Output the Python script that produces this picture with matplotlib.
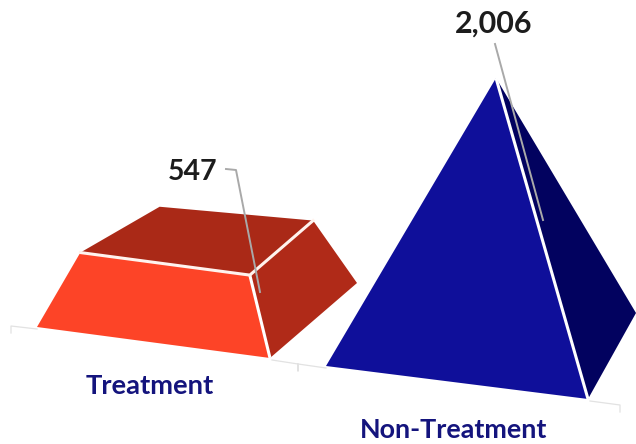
import matplotlib
matplotlib.use("Agg")
import matplotlib.pyplot as plt
from matplotlib.patches import Polygon
import numpy as np

# Data
categories = ["Treatment", "Non-Treatment"]
values = [547, 2006]
value_labels = ["547", "2,006"]

# Layout (screen pixels, y downward): base corners and apex of each pyramid
front_left = [(37, 327), (326, 366)]
front_right = [(270, 358), (588, 399)]
back_right = [(357, 283), (636, 313)]
back_left = [(146, 264), (500, 300)]
apex = [(196, 54), (496, 78)]
front_colors = ["#fd4427", "#0f0f9a"]
side_colors = ["#b02a18", "#02025f"]
top_colors = ["#aa2917", "#02025f"]
label_pos = [(150, 386), (454, 430)]
value_pos = [(193, 172), (494, 24)]
value_sizes = [20.5, 22]
label_sizes = [19.7, 19.4]
leaders = [[(226, 169), (236, 170), (260, 292)], [(495, 44), (543, 220)]]
axis_segments = [[(11, 333), (11, 326), (37, 329)],
                 [(272, 360), (298, 364), (298, 371), (298, 364), (326, 368)],
                 [(590, 401), (620, 405), (620, 412)]]

fig = plt.figure(figsize=(6.36, 4.44), dpi=100, facecolor="white")
ax = fig.add_axes([0, 0, 1, 1])
ax.set_xlim(0, 636)
ax.set_ylim(444, 0)
ax.axis("off")

for seg in axis_segments:
    xs, ys = zip(*seg)
    ax.plot(xs, ys, color="#e2e2e2", lw=0.9, zorder=1)

top_value = max(values)
for i, v in enumerate(values):
    frac = v / top_value
    A = np.array(apex[i], float)
    lift = lambda p: np.array(p, float) + (A - np.array(p, float)) * frac
    fl, fr, br, bl = map(np.array, (front_left[i], front_right[i], back_right[i], back_left[i]))
    tfl, tfr, tbr, tbl = lift(fl), lift(fr), lift(br), lift(bl)
    ax.add_patch(Polygon([fr, br, tbr, tfr], fc=side_colors[i], ec="none", zorder=2))
    if frac < 1:
        ax.add_patch(Polygon([tfl, tfr, tbr, tbl], fc=top_colors[i], ec="none", zorder=2))
    ax.add_patch(Polygon([fl, fr, tfr, tfl], fc=front_colors[i], ec="none", zorder=3))
    ax.plot(*zip(fr, tfr), color="white", lw=2.2, zorder=4, solid_capstyle="butt")
    if frac < 1:
        ax.plot(*zip(tfl, tfr, tbr), color="#fff3ee", lw=2.2, zorder=4, solid_joinstyle="miter")
    xs, ys = zip(*leaders[i])
    ax.plot(xs, ys, color="#a9a9a9", lw=1.4, zorder=5)
    ax.text(*value_pos[i], value_labels[i], ha="center", va="center", fontsize=value_sizes[i],
            fontweight="bold", family="Lato", color="#1c1c1c", zorder=6)
    ax.text(*label_pos[i], categories[i], ha="center", va="center", fontsize=label_sizes[i],
            fontweight="bold", family="Lato", color="#14147d", zorder=6)

fig.savefig("out.png", dpi=100)
